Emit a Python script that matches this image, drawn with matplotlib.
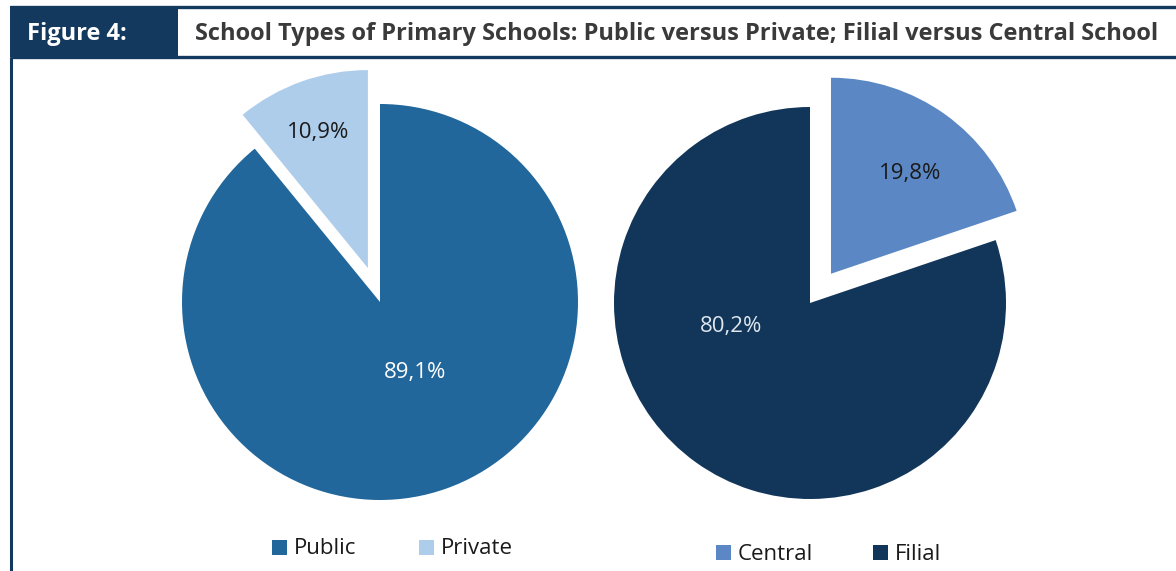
import matplotlib.pyplot as plt
from matplotlib.patches import Rectangle
import numpy as np

# School type shares (percent)
sectorLabels = ["Public", "Private"]
sectorShares = [89.1, 10.9]
sectorColors = ["#22679b", "#aecdeb"]

campusLabels = ["Central", "Filial"]
campusShares = [19.8, 80.2]
campusColors = ["#5b88c4", "#12365a"]

figureTag = "Figure 4:"
figureTitle = "School Types of Primary Schools: Public versus Private; Filial versus Central School"

navy = "#133a5e"
textGrey = "#3a3a3a"

W, H = 1176, 571
plt.rcParams['font.family'] = ['Open Sans', 'DejaVu Sans']

fig = plt.figure(figsize=(W / 100, H / 100), dpi=100)
ax = fig.add_axes([0, 0, 1, 1])
ax.set_xlim(0, W)
ax.set_ylim(0, H)
ax.set_aspect('equal')
ax.axis('off')


def py(y):
    # pixel row -> axis y
    return H - y


# header band
ax.add_patch(Rectangle((10, py(57)), 168, 51, color=navy, lw=0))
ax.plot([10, W], [py(7), py(7)], color=navy, lw=2.4, solid_capstyle='butt')
ax.plot([10, W], [py(57), py(57)], color=navy, lw=2.4, solid_capstyle='butt')
ax.plot([11, 11], [py(57), 0], color=navy, lw=2.2, solid_capstyle='butt')
ax.text(27, py(34), figureTag, color='white', fontsize=17, fontweight='bold',
        va='center', ha='left')
ax.text(195, py(34), figureTitle, color=textGrey, fontsize=17, fontweight='bold',
        va='center', ha='left')


def drawPie(shares, colors, center, radius, explode, labelSpots, labelColors):
    wedges, _ = ax.pie(shares, colors=colors, startangle=90, counterclock=False,
                       center=center, radius=radius, explode=explode,
                       wedgeprops=dict(linewidth=0), normalize=True)
    for w, val, (ang, dist), tc in zip(wedges, shares, labelSpots, labelColors):
        cx, cy = w.center
        a = np.deg2rad(ang)
        ax.text(cx + dist * radius * np.cos(a), cy + dist * radius * np.sin(a) - 2,
                f"{val:.1f}%".replace('.', ','), color=tc, fontsize=16,
                ha='center', va='center')
    return wedges


drawPie(sectorShares, sectorColors, (380, py(302)), 198, [0, 36],
        [(-62.8, 0.39), (109.9, 0.74)], ['white', '#1a1a1a'])
drawPie(campusShares, campusColors, (810, py(303)), 196, [36, 0],
        [(52.2, 0.66), (-164.6, 0.42)], ['#1a1a1a', '#dfe6ee'])

ax.set_xlim(0, W)
ax.set_ylim(0, H)


def legendRow(labels, colors, xs, y):
    for lab, col, x in zip(labels, colors, xs):
        ax.add_patch(Rectangle((x, py(y) - 7.5), 15, 15, color=col, lw=0))
        ax.text(x + 22, py(y) - 2, lab, color='#1a1a1a', fontsize=16,
                ha='left', va='center')


legendRow(sectorLabels, sectorColors, [272, 419], 547)
legendRow(campusLabels, campusColors, [716, 873], 552)

fig.savefig("out.png", dpi=100)
